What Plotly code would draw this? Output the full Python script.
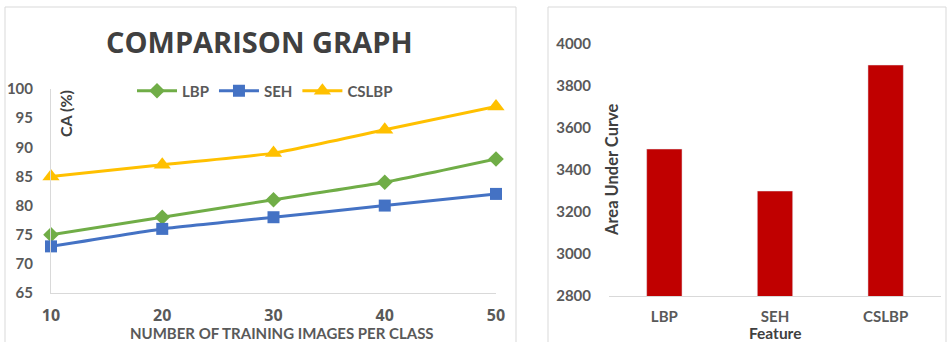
import plotly.graph_objects as go

# Classification accuracy vs. training images per class
train_images = [10, 20, 30, 40, 50]
ca_lbp = [75, 78, 81, 84, 88]
ca_seh = [73, 76, 78, 80, 82]
ca_cslbp = [85, 87, 89, 93, 97]

# Area under curve per feature
features = ["LBP", "SEH", "CSLBP"]
auc_values = [3500, 3300, 3900]

W, H = 947, 342
FONT = "Lato"
GRAY = "#595959"
DARK = "#404040"
AXIS_GRAY = "#d9d9d9"

def px(x):
    return x / W

def py(y):
    return 1 - y / H

fig = go.Figure()

series = [
    ("LBP", ca_lbp, "#70AD47", "diamond", 12),
    ("SEH", ca_seh, "#4472C4", "square", 12),
    ("CSLBP", ca_cslbp, "#FFC000", "triangle-up", 15),
]
for name, vals, color, sym, size in series:
    fig.add_trace(go.Scatter(
        x=train_images, y=vals, name=name, mode="lines+markers",
        line=dict(color=color, width=3, shape="spline", smoothing=0.4),
        marker=dict(symbol=sym, size=size, color=color),
        xaxis="x", yaxis="y", cliponaxis=False,
    ))

fig.add_trace(go.Bar(
    x=features, y=auc_values, marker=dict(color="#C00000"),
    xaxis="x2", yaxis="y2", showlegend=False, width=0.32,
))

fig.update_layout(
    width=W, height=H,
    margin=dict(l=0, r=0, t=0, b=0, autoexpand=False),
    paper_bgcolor="white", plot_bgcolor="white",
    font=dict(family=FONT, color=GRAY, weight="bold"),
    xaxis=dict(
        domain=[px(51), px(496)], range=[10, 50],
        tickvals=train_images, ticktext=[str(v) for v in train_images],
        showgrid=False, zeroline=False, showline=True, linecolor=AXIS_GRAY,
        linewidth=1, ticks="", ticklabelstandoff=8,
        tickfont=dict(size=16, family="Open Sans", color=GRAY, weight="bold"),
        anchor="y", automargin=False,
    ),
    yaxis=dict(
        domain=[py(293), py(89)], range=[65, 100], dtick=5,
        showgrid=False, zeroline=False, showline=True, linecolor=AXIS_GRAY,
        linewidth=1, ticks="", ticklabelstandoff=14,
        tickfont=dict(size=15, family=FONT, color=GRAY, weight="bold"),
        anchor="x", automargin=False,
    ),
    xaxis2=dict(
        domain=[px(609), px(941)],
        showgrid=False, zeroline=False, showline=True, linecolor=AXIS_GRAY,
        linewidth=1, ticks="", ticklabelstandoff=7,
        tickfont=dict(size=15, family=FONT, color=GRAY, weight="bold"),
        anchor="y2", automargin=False,
    ),
    yaxis2=dict(
        domain=[py(296), py(44)], range=[2800, 4000], dtick=200,
        showgrid=False, zeroline=False, showline=False, ticks="",
        ticklabelstandoff=17,
        tickfont=dict(size=15, family=FONT, color=GRAY, weight="bold"),
        anchor="x2", automargin=False,
    ),
    legend=dict(
        orientation="h", x=px(132), y=py(91), xanchor="left", yanchor="middle",
        font=dict(size=15, family=FONT, color=GRAY, weight="bold"),
        itemwidth=40, bgcolor="rgba(0,0,0,0)", tracegroupgap=0,
    ),
    bargap=0.68,
)

def label(text, x, y, size, color, family=FONT, angle=0):
    return dict(text=text, x=px(x), y=py(y), xref="paper", yref="paper",
                xanchor="center", yanchor="middle", showarrow=False,
                textangle=angle,
                font=dict(size=size, family=family, color=color, weight="bold"))

annotations = [
    label("COMPARISON GRAPH", 259, 42, 29, DARK, family="Open Sans"),
    label("CA (%)", 66, 114, 16, DARK, angle=-90),
    label("NUMBER OF TRAINING IMAGES PER CLASS", 282, 333, 15, GRAY),
    label("Area Under Curve", 612, 170, 16.5, DARK, angle=-90),
    label("Feature", 775, 333, 15.5, DARK),
]
fig.update_layout(annotations=annotations)

# Panel borders
fig.update_layout(shapes=[
    dict(type="rect", xref="paper", yref="paper",
         x0=px(5), x1=px(516), y0=py(350), y1=py(7),
         line=dict(color=AXIS_GRAY, width=1)),
    dict(type="rect", xref="paper", yref="paper",
         x0=px(548), x1=px(946), y0=py(350), y1=py(7),
         line=dict(color=AXIS_GRAY, width=1)),
])

fig.write_html("out.html")
